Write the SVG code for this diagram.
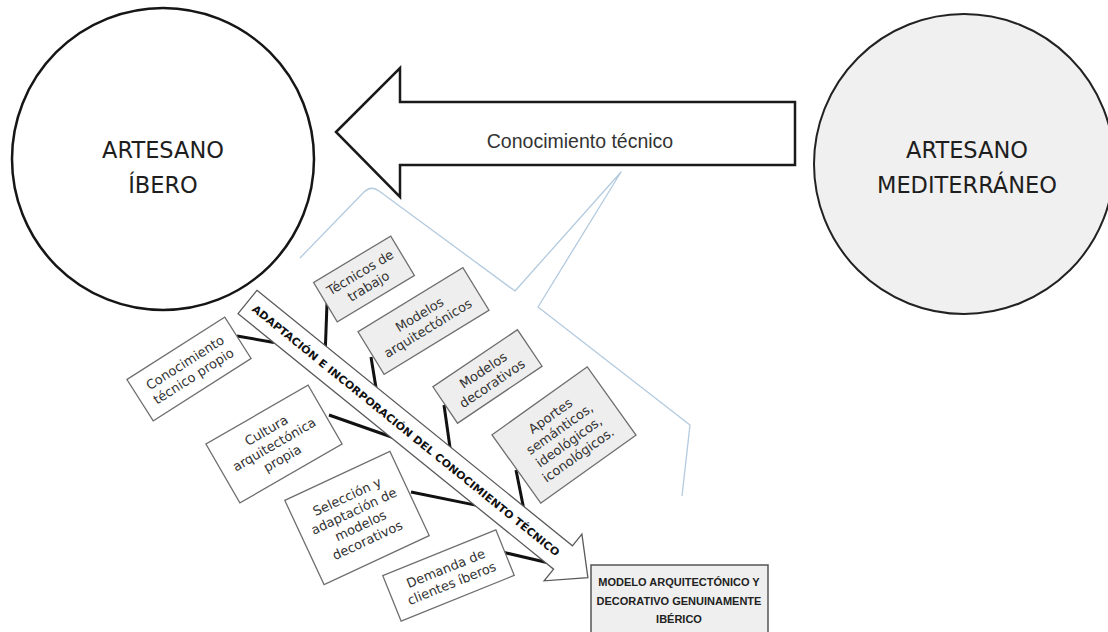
<svg xmlns="http://www.w3.org/2000/svg" width="1108" height="632" viewBox="0 0 1108 632">
<style>
.big{font-family:"DejaVu Sans","Liberation Sans",Arial,sans-serif;font-size:22.5px;fill:#1e1e1e;text-anchor:middle}
.bt{font-family:"DejaVu Sans","Liberation Sans",Arial,sans-serif;font-size:13px;fill:#333;text-anchor:middle}
.spine{font-family:"DejaVu Sans","Liberation Sans",Arial,sans-serif;font-size:10.5px;font-weight:bold;fill:#111}
.out{font-family:"Liberation Sans",Arial,sans-serif;font-size:11px;font-weight:bold;fill:#222;text-anchor:middle}
.gbox{fill:#eeeeee;stroke:#6f6f6f;stroke-width:1.3}
.wbox{fill:#ffffff;stroke:#6f6f6f;stroke-width:1.3}
.conn{stroke:#111;stroke-width:3;fill:none;stroke-linecap:butt}
</style>
<rect width="1108" height="632" fill="#ffffff"/>

<!-- light blue hand-drawn outline -->
<path d="M300,258 L364,192 Q371,185 379,191 L515,291 L621,172 L538,307 L690,425 L682,496" fill="none" stroke="#b3cadf" stroke-width="1.3" stroke-linejoin="round"/>

<g id="artesano-ibero">
<circle cx="163" cy="159" r="151" fill="#ffffff" stroke="#161616" stroke-width="2.5"/>
<text class="big" x="163" y="158">ARTESANO</text>
<text class="big" x="163" y="193">ÍBERO</text>
</g>

<g id="artesano-mediterraneo">
<circle cx="964" cy="164" r="150" fill="#f0f0f0" stroke="#222" stroke-width="2"/>
<text class="big" x="967" y="158">ARTESANO</text>
<text class="big" x="967" y="193">MEDITERRÁNEO</text>
</g>

<g id="conocimiento-tecnico">
<polygon points="336,132 400,68 400,102 795,102 795,165 400,165 400,197" fill="#ffffff" stroke="#1a1a1a" stroke-width="2.5" stroke-linejoin="miter"/>
<text x="580" y="148" font-family="'Liberation Sans',Arial,sans-serif" font-size="19.5" fill="#333" text-anchor="middle">Conocimiento técnico</text>
</g>

<g id="connectors">
<line class="conn" x1="327" y1="303" x2="325.3" y2="350"/>
<line class="conn" x1="371" y1="357" x2="376.5" y2="391"/>
<line class="conn" x1="444" y1="405" x2="450.5" y2="451"/>
<line class="conn" x1="516" y1="470" x2="524" y2="510"/>
<line class="conn" x1="237" y1="336" x2="274" y2="342.5"/>
<line class="conn" x1="329" y1="415" x2="393" y2="437.5"/>
<line class="conn" x1="411" y1="492" x2="478" y2="505.6"/>
<line class="conn" x1="502" y1="552" x2="548" y2="562.7"/>
</g>

<g id="adaptacion" transform="translate(247.5,302) rotate(39)">
<polygon points="0,-15 406,-15 406,-30 438,0 406,30 406,15 0,15" fill="#ffffff" stroke="#5a5a5a" stroke-width="1.3"/>
<text class="spine" x="8" y="4" textLength="392" lengthAdjust="spacingAndGlyphs">ADAPTACIÓN E INCORPORACIÓN DEL CONOCIMIENTO TÉCNICO</text>
</g>

<g id="tecnicos-trabajo" transform="translate(364,279) rotate(-31)">
<rect class="gbox" x="-45" y="-23" width="90" height="46"/>
<text class="bt" x="0" y="-3">Técnicos de</text>
<text class="bt" x="0" y="13">trabajo</text>
</g>

<g id="modelos-arquitectonicos" transform="translate(423.5,321) rotate(-31.5)">
<rect class="gbox" x="-61.5" y="-25" width="123" height="50"/>
<text class="bt" x="0" y="-3">Modelos</text>
<text class="bt" x="0" y="13">arquitectónicos</text>
</g>

<g id="modelos-decorativos" transform="translate(487.5,376.5) rotate(-34)">
<rect class="gbox" x="-51" y="-22" width="102" height="44"/>
<text class="bt" x="0" y="-3">Modelos</text>
<text class="bt" x="0" y="13">decorativos</text>
</g>

<g id="aportes" transform="translate(564,435) rotate(-35.5)">
<rect class="gbox" x="-58.5" y="-42" width="117" height="84"/>
<text class="bt" x="0" y="-19">Aportes</text>
<text class="bt" x="0" y="-3">semánticos,</text>
<text class="bt" x="0" y="13">ideológicos,</text>
<text class="bt" x="0" y="29">iconológicos.</text>
</g>

<g id="conocimiento-propio" transform="translate(189,369) rotate(-32.5)">
<rect class="wbox" x="-58" y="-24.5" width="116" height="49"/>
<text class="bt" x="0" y="-3">Conocimiento</text>
<text class="bt" x="0" y="13">técnico propio</text>
</g>

<g id="cultura" transform="translate(274,444) rotate(-30)">
<rect class="wbox" x="-59" y="-34" width="118" height="68"/>
<text class="bt" x="0" y="-11">Cultura</text>
<text class="bt" x="0" y="5">arquitectónica</text>
<text class="bt" x="0" y="21">propia</text>
</g>

<g id="seleccion" transform="translate(357,518) rotate(-25)">
<rect class="wbox" x="-58" y="-46.5" width="116" height="93"/>
<text class="bt" x="0" y="-19">Selección y</text>
<text class="bt" x="0" y="-3">adaptación de</text>
<text class="bt" x="0" y="13">modelos</text>
<text class="bt" x="0" y="29">decorativos</text>
</g>

<g id="demanda" transform="translate(448.5,575.5) rotate(-22)">
<rect class="wbox" x="-61" y="-24.5" width="122" height="49"/>
<text class="bt" x="0" y="-3">Demanda de</text>
<text class="bt" x="0" y="13">clientes íberos</text>
</g>

<g id="modelo-iberico">
<rect x="591" y="565" width="177" height="80" fill="#efefef" stroke="#555" stroke-width="1.5"/>
<text class="out" x="679" y="586">MODELO ARQUITECTÓNICO Y</text>
<text class="out" x="679" y="605">DECORATIVO GENUINAMENTE</text>
<text class="out" x="679" y="623">IBÉRICO</text>
</g>
</svg>
